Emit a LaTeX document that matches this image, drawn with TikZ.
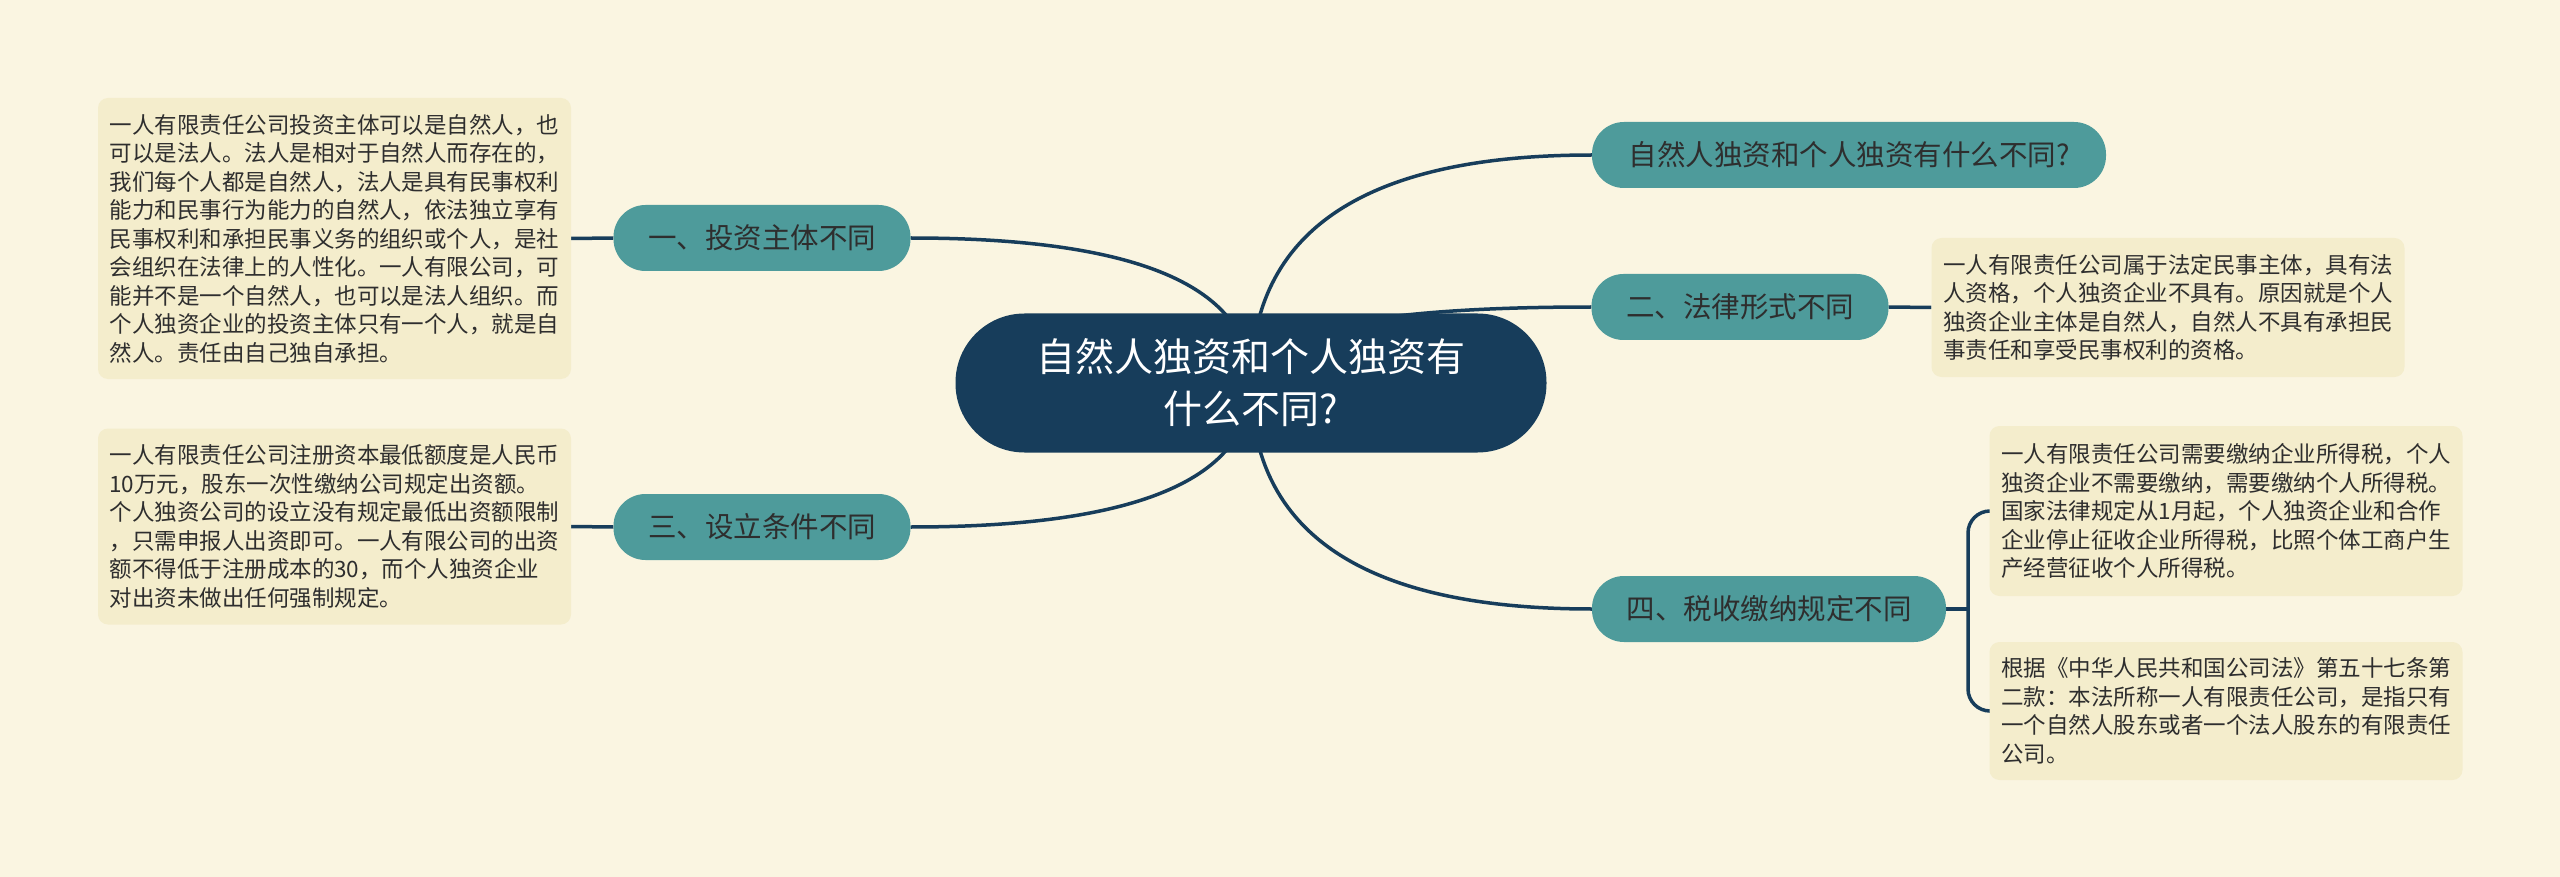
\documentclass[tikz,border=0pt]{standalone}
\usepackage{fontspec}
\setmainfont{Noto Sans CJK SC}
\usetikzlibrary{calc}
\pgfdeclarelayer{bgfill}
\pgfdeclarelayer{lines}
\pgfsetlayers{bgfill,lines,main}
\definecolor{bgc}{HTML}{FAF5E1}
\definecolor{navy}{HTML}{173D5B}
\definecolor{mmteal}{HTML}{4E9B9B}
\definecolor{boxc}{HTML}{F4EDCC}
\definecolor{txt}{HTML}{2E2E2E}
\begin{document}
\begin{tikzpicture}[x=1pt,y=-1pt,
  mainnode/.style={fill=navy, text=white, rounded corners=69pt, minimum width=591pt, minimum height=139pt, inner sep=0pt, align=center, font=\fontsize{39pt}{52pt}\selectfont},
  branch/.style={fill=mmteal, text=txt, rounded corners=32pt, minimum height=66pt, inner sep=0pt, font=\fontsize{28.5pt}{34pt}\selectfont},
  note/.style={fill=boxc, text=txt, rounded corners=10pt, text width=450pt, inner xsep=11.5pt, inner ysep=0pt, align=left, font=\fontsize{22.5pt}{28.5pt}\selectfont},
  conn/.style={draw=navy, line width=3.5pt}]
\useasboundingbox (0,0) rectangle (2560,877);
\begin{pgfonlayer}{bgfill}
\fill[bgc] (0,0) rectangle (2560,877);
\end{pgfonlayer}

\node[mainnode] (c) at (1251,383) {自然人独资和个人独资有\\什么不同?};

\node[branch, minimum width=514pt] (b1) at (1849,155) {自然人独资和个人独资有什么不同?};
\node[branch, minimum width=297pt] (b2) at (1740,307) {二、法律形式不同};
\node[branch, minimum width=297pt] (b3) at (762,238) {一、投资主体不同};
\node[branch, minimum width=297pt] (b4) at (762,527) {三、设立条件不同};
\node[branch, minimum width=354pt] (b5) at (1769,609) {四、税收缴纳规定不同};

\node[note, minimum height=281pt] (t1) at (334.5,238.5) {一人有限责任公司投资主体可以是自然人，也\\可以是法人。法人是相对于自然人而存在的，\\我们每个人都是自然人，法人是具有民事权利\\能力和民事行为能力的自然人，依法独立享有\\民事权利和承担民事义务的组织或个人，是社\\会组织在法律上的人性化。一人有限公司，可\\能并不是一个自然人，也可以是法人组织。而\\个人独资企业的投资主体只有一个人，就是自\\然人。责任由自己独自承担。};
\node[note, minimum height=196pt] (t2) at (334.5,526.5) {一人有限责任公司注册资本最低额度是人民币\\10万元，股东一次性缴纳公司规定出资额。\\个人独资公司的设立没有规定最低出资额限制\\，只需申报人出资即可。一人有限公司的出资\\额不得低于注册成本的30，而个人独资企业\\对出资未做出任何强制规定。};
\node[note, minimum height=139pt] (t3) at (2168,307.5) {一人有限责任公司属于法定民事主体，具有法\\人资格，个人独资企业不具有。原因就是个人\\独资企业主体是自然人，自然人不具有承担民\\事责任和享受民事权利的资格。};
\node[note, minimum height=170pt] (t4) at (2226,511) {一人有限责任公司需要缴纳企业所得税，个人\\独资企业不需要缴纳，需要缴纳个人所得税。\\国家法律规定从1月起，个人独资企业和合作\\企业停止征收企业所得税，比照个体工商户生\\产经营征收个人所得税。};
\node[note, minimum height=138pt] (t5) at (2226,711) {根据《中华人民共和国公司法》第五十七条第\\二款：本法所称一人有限责任公司，是指只有\\一个自然人股东或者一个法人股东的有限责任\\公司。};

\coordinate (bx) at (1968,609);

\begin{pgfonlayer}{lines}
\foreach \b/\a in {b1/west,b2/west,b5/west,b3/east,b4/east}{
  \draw[conn] (c.center) .. controls ($(c.center)!0.667!(c.center |- \b.\a)$) and ($(\b.\a)!0.667!(c.center |- \b.\a)$) .. (\b.\a);
}
\draw[conn] (b3.west) -- (t1.east);
\draw[conn] (b4.west) -- (t2.east);
\draw[conn] (b2.east) -- (t3.west);
\draw[conn] (b5.east) -- (bx);
\draw[conn, rounded corners=22pt] (t4.west) -- (t4.west -| bx) -- (t5.west -| bx) -- (t5.west);
\end{pgfonlayer}
\end{tikzpicture}
\end{document}
